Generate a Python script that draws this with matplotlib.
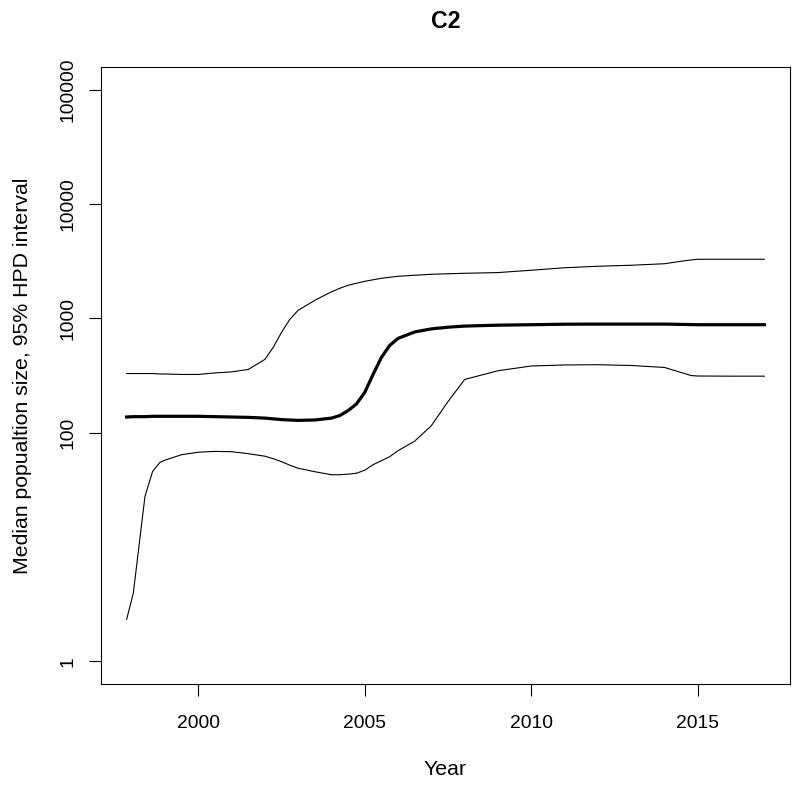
import numpy as np
import matplotlib
matplotlib.use("Agg")
import matplotlib.pyplot as plt

plt.rcParams['font.family'] = ['Liberation Sans', 'DejaVu Sans']

# Jahre / Werte
years = [1997.85, 1998.05, 1998.4, 1998.63, 1998.85, 1999.0, 1999.5, 2000.0,
         2000.5, 2001.0, 2001.5, 2002.0, 2002.25, 2002.5, 2002.75, 2003.0,
         2003.5, 2004.0, 2004.25, 2004.5, 2004.75, 2005.0, 2005.25, 2005.5,
         2005.75, 2006.0, 2006.5, 2007.0, 2007.5, 2008.0, 2009.0, 2010.0,
         2011.0, 2012.0, 2013.0, 2014.0, 2014.5, 2014.8, 2015.0, 2016.0, 2017.0]

upper = [329, 329, 329, 329, 326, 326, 323, 323,
         333, 340, 357, 437, 557, 754, 980, 1176,
         1439, 1708, 1833, 1948, 2028, 2111, 2176, 2243,
         2289, 2336, 2384, 2432, 2457, 2481, 2517, 2637,
         2773, 2858, 2917, 3007, 3162, 3246, 3292, 3292, 3292]

median = [137, 138, 138, 139, 139, 139, 139, 139,
          138, 137, 136, 134, 132, 130, 129, 128,
          129, 134, 141, 156, 178, 225, 323, 455,
          580, 668, 761, 809, 837, 856, 872, 880,
          889, 891, 891, 891, 886, 882, 880, 880, 880]

lower = [2.32, 3.93, 27.6, 45.8, 54.9, 57.4, 64.1, 67.4,
         68.5, 68.1, 65.4, 62.2, 59.2, 55.7, 51.9, 48.8,
         45.5, 42.8, 42.8, 43.3, 44.1, 46.9, 52.4, 56.8,
         61.6, 69.5, 84.2, 115, 187, 292, 348, 383,
         391, 393, 387, 372, 336, 316, 313, 312, 312]

xticks = [2000, 2005, 2010, 2015]
yticks = [1, 100, 1000, 10000, 100000]

W, H = 800, 786
fig = plt.figure(figsize=(W / 100, H / 100), dpi=100)
ax = fig.add_axes([101 / W, 1 - 684 / H, 689 / W, 617 / H])

ax.plot(years, upper, color='black', lw=0.8)
ax.plot(years, median, color='black', lw=2.3)
ax.plot(years, lower, color='black', lw=0.8)

ax.set_yscale('log')
ax.set_xlim(1997.08, 2017.77)
ax.set_ylim(10 ** -0.2, 10 ** 5.2)

ax.set_xticks(xticks)
ax.set_xticklabels([str(t) for t in xticks])
ax.set_yticks(yticks)
ax.set_yticklabels([str(t) for t in yticks], rotation=90, va='center')
ax.yaxis.set_minor_locator(matplotlib.ticker.NullLocator())

ax.tick_params(axis='both', direction='out', length=8.4, width=0.8,
               labelsize=13.9, colors='black')
ax.tick_params(axis='x', pad=14)
ax.tick_params(axis='y', pad=8.9)
for s in ax.spines.values():
    s.set_linewidth(0.8)

cx = (101 + 790) / 2 / W
fig.text(cx, 1 - 28 / H, 'C2', ha='center', va='baseline',
         fontsize=16.7, fontweight='bold')
fig.text(cx, 1 - 775 / H, 'Year', ha='center', va='baseline', fontsize=15.3)
fig.text(28 / W, 1 - 375.5 / H, 'Median popualtion size, 95% HPD interval',
         ha='center', va='baseline', rotation=90, rotation_mode='anchor',
         fontsize=15.3)

fig.savefig('out.png', dpi=100)
